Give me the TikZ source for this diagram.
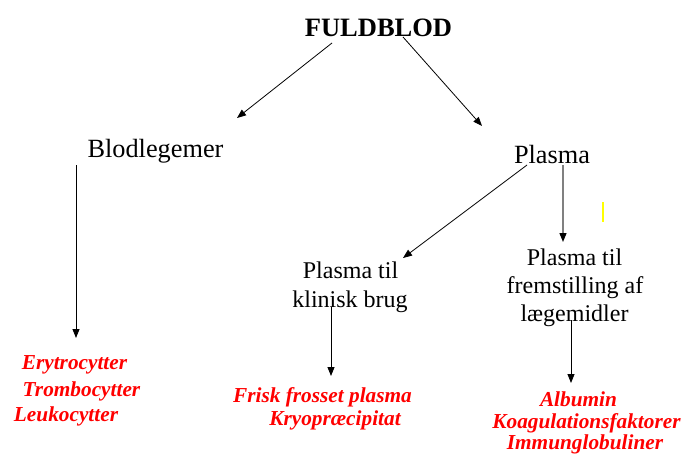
\documentclass[tikz,border=0pt]{standalone}
\usepackage{fontspec}
\setmainfont{Liberation Serif}
\usetikzlibrary{arrows.meta}
\definecolor{redtxt}{RGB}{255,0,0}
\definecolor{markyellow}{RGB}{255,255,0}
\begin{document}
\begin{tikzpicture}[x=1pt,y=-1pt,
  title/.style={anchor=base,inner sep=0pt,font=\fontsize{26.5}{30}\selectfont\bfseries},
  big/.style={anchor=base,inner sep=0pt,font=\fontsize{26.3}{30}\selectfont},
  mid/.style={anchor=base,inner sep=0pt,font=\fontsize{24}{28}\selectfont},
  prod/.style={anchor=base,inner sep=0pt,text=redtxt,font=\fontsize{21.3}{25}\selectfont\bfseries\itshape},
  conn/.style={line width=0.8pt,-{Triangle[length=9pt,width=7pt]}},
  gconn/.style={line width=1.3pt,draw=black!50,-{Triangle[length=9pt,width=7pt,fill=black,color=black]}}]
\useasboundingbox (0,0) rectangle (683,455);
% texts
\node[title] (fuld) at (378.5,36) {FULDBLOD};
\node[big] (blod) at (155.5,157) {Blodlegemer};
\node[big] (plasma) at (552,163) {Plasma};
\node[mid] (klin1) at (350.5,278) {Plasma til};
\node[mid] (klin2) at (350,307) {klinisk brug};
\node[mid] (frem1) at (574.5,265) {Plasma til};
\node[mid] (frem2) at (575,293) {fremstilling af};
\node[mid] (frem3) at (574.5,321) {lægemidler};
\node[prod] (ery) at (74.5,369) {Erytrocytter};
\node[prod] (trom) at (81.5,396) {Trombocytter};
\node[prod] (leuk) at (66,421) {Leukocytter};
\node[prod] (frisk) at (322.5,402) {Frisk frosset plasma};
\node[prod] (kryo) at (335,425) {Kryopræcipitat};
\node[prod] (alb) at (578.5,406) {Albumin};
\node[prod] (koag) at (586.5,428) {Koagulationsfaktorer};
\node[prod] (imm) at (585,449) {Immunglobuliner};
% connector end points
\coordinate (f1) at (332,43);
\coordinate (b1) at (237,118);
\coordinate (f2) at (403,37);
\coordinate (p1) at (482,126);
\coordinate (bl0) at (76,165);
\coordinate (bl1) at (76,338);
\coordinate (pl0) at (527,165);
\coordinate (kl1) at (403,258);
\coordinate (pl1) at (563,165);
\coordinate (fr1) at (563,242);
\coordinate (kl2) at (331,307);
\coordinate (fk1) at (331,376);
\coordinate (fr2) at (571,320);
\coordinate (al1) at (571,383);
% connectors
\draw[conn] (f1) -- (b1);
\draw[conn] (f2) -- (p1);
\draw[conn] (bl0) -- (bl1);
\draw[conn] (pl0) -- (kl1);
\draw[gconn] (pl1) -- (fr1);
\draw[conn] (kl2) -- (fk1);
\draw[conn] (fr2) -- (al1);
% small yellow mark
\coordinate (y0) at (603,202);
\coordinate (y1) at (603,222);
\draw[markyellow,line width=1.2pt] (y0) -- (y1);
\end{tikzpicture}
\end{document}
